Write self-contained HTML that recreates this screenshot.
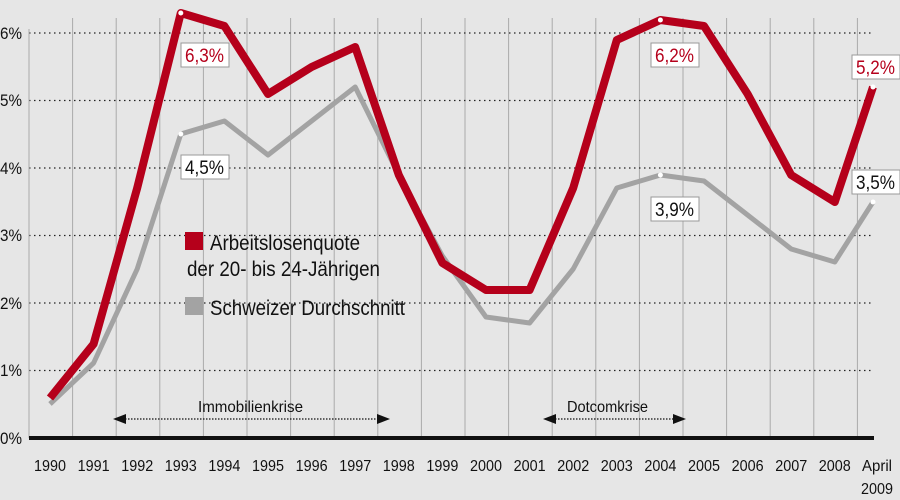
<!DOCTYPE html>
<html><head><meta charset="utf-8"><style>
body{margin:0;background:#e6e6e6}
svg{display:block;font-family:"Liberation Sans",sans-serif}
</style></head><body>
<svg width="900" height="500" viewBox="0 0 900 500" xmlns="http://www.w3.org/2000/svg">
<rect width="900" height="500" fill="#e6e6e6"/>
<g stroke="#aaa" stroke-width="1">
<line x1="72.6" y1="18" x2="72.6" y2="438"/><line x1="116.2" y1="18" x2="116.2" y2="438"/><line x1="159.8" y1="18" x2="159.8" y2="438"/><line x1="203.4" y1="18" x2="203.4" y2="438"/><line x1="247" y1="18" x2="247" y2="438"/><line x1="290.6" y1="18" x2="290.6" y2="438"/><line x1="334.2" y1="18" x2="334.2" y2="438"/><line x1="377.8" y1="18" x2="377.8" y2="438"/><line x1="421.4" y1="18" x2="421.4" y2="438"/><line x1="465" y1="18" x2="465" y2="438"/><line x1="508.6" y1="18" x2="508.6" y2="438"/><line x1="552.2" y1="18" x2="552.2" y2="438"/><line x1="595.8" y1="18" x2="595.8" y2="438"/><line x1="639.4" y1="18" x2="639.4" y2="438"/><line x1="683" y1="18" x2="683" y2="438"/><line x1="726.6" y1="18" x2="726.6" y2="438"/><line x1="770.2" y1="18" x2="770.2" y2="438"/><line x1="813.8" y1="18" x2="813.8" y2="438"/><line x1="857.4" y1="18" x2="857.4" y2="438"/>
</g>
<g stroke="#222" stroke-width="1.3" stroke-dasharray="1.5,3.5">
<line x1="29" y1="33" x2="873" y2="33"/><line x1="29" y1="100.5" x2="873" y2="100.5"/><line x1="29" y1="168" x2="873" y2="168"/><line x1="29" y1="235.5" x2="873" y2="235.5"/><line x1="29" y1="303" x2="873" y2="303"/><line x1="29" y1="370.5" x2="873" y2="370.5"/>
</g>
<line x1="29" y1="29" x2="29" y2="438" stroke="#aaa"/>
<g font-size="17" fill="#111" lengthAdjust="spacingAndGlyphs">
<text x="0" y="39" textLength="22" lengthAdjust="spacingAndGlyphs">6%</text><text x="0" y="106" textLength="22" lengthAdjust="spacingAndGlyphs">5%</text><text x="0" y="174" textLength="22" lengthAdjust="spacingAndGlyphs">4%</text><text x="0" y="241" textLength="22" lengthAdjust="spacingAndGlyphs">3%</text><text x="0" y="309" textLength="22" lengthAdjust="spacingAndGlyphs">2%</text><text x="0" y="376" textLength="22" lengthAdjust="spacingAndGlyphs">1%</text><text x="0" y="444" textLength="22" lengthAdjust="spacingAndGlyphs">0%</text>
</g>
<line x1="29" y1="438" x2="874" y2="438" stroke="#111" stroke-width="4"/>
<g font-size="16" fill="#111">
<text x="34" y="471" textLength="32" lengthAdjust="spacingAndGlyphs">1990</text><text x="77.6" y="471" textLength="32" lengthAdjust="spacingAndGlyphs">1991</text><text x="121.2" y="471" textLength="32" lengthAdjust="spacingAndGlyphs">1992</text><text x="164.8" y="471" textLength="32" lengthAdjust="spacingAndGlyphs">1993</text><text x="208.4" y="471" textLength="32" lengthAdjust="spacingAndGlyphs">1994</text><text x="252" y="471" textLength="32" lengthAdjust="spacingAndGlyphs">1995</text><text x="295.6" y="471" textLength="32" lengthAdjust="spacingAndGlyphs">1996</text><text x="339.2" y="471" textLength="32" lengthAdjust="spacingAndGlyphs">1997</text><text x="382.8" y="471" textLength="32" lengthAdjust="spacingAndGlyphs">1998</text><text x="426.4" y="471" textLength="32" lengthAdjust="spacingAndGlyphs">1999</text><text x="470" y="471" textLength="32" lengthAdjust="spacingAndGlyphs">2000</text><text x="513.6" y="471" textLength="32" lengthAdjust="spacingAndGlyphs">2001</text><text x="557.2" y="471" textLength="32" lengthAdjust="spacingAndGlyphs">2002</text><text x="600.8" y="471" textLength="32" lengthAdjust="spacingAndGlyphs">2003</text><text x="644.4" y="471" textLength="32" lengthAdjust="spacingAndGlyphs">2004</text><text x="688" y="471" textLength="32" lengthAdjust="spacingAndGlyphs">2005</text><text x="731.6" y="471" textLength="32" lengthAdjust="spacingAndGlyphs">2006</text><text x="775.2" y="471" textLength="32" lengthAdjust="spacingAndGlyphs">2007</text><text x="818.8" y="471" textLength="32" lengthAdjust="spacingAndGlyphs">2008</text><text x="862" y="471" textLength="30" lengthAdjust="spacingAndGlyphs">April</text><text x="861" y="494" textLength="32" lengthAdjust="spacingAndGlyphs">2009</text>
</g>
<polyline fill="none" stroke="#a3a3a3" stroke-width="5" stroke-linejoin="round" points="50,404 93.6,363 137.2,269 180.8,134 224.4,121 268,155 311.6,121 355.2,87 398.8,175 442.4,256 486,317 529.6,323 573.2,269 616.8,188 660.4,175 704,181 747.6,215 791.2,249 834.8,262 873,202"/>
<polyline fill="none" stroke="#b5001b" stroke-width="8" stroke-linejoin="round" points="50,398 93.6,344 137.2,188 180.8,13 224.4,26 268,94 311.6,67 355.2,47 398.8,175 442.4,263 486,290 529.6,290 573.2,188 616.8,40 660.4,20 704,26 747.6,94 791.2,175 834.8,202 873,87"/>
<g fill="#fff"><circle cx="180.8" cy="13" r="2.5"/><circle cx="660.4" cy="20" r="2.5"/><circle cx="873" cy="87" r="2.5"/><circle cx="180.8" cy="134" r="2.5"/><circle cx="660.4" cy="175" r="2.5"/><circle cx="873" cy="202" r="2.5"/></g>
<g font-size="19" stroke-width="1">
<rect x="181" y="43" width="48" height="24" fill="#fff" stroke="#999"/><text x="185" y="62" fill="#b5001b" textLength="39" lengthAdjust="spacingAndGlyphs">6,3%</text>
<rect x="651" y="43" width="48" height="24" fill="#fff" stroke="#999"/><text x="655" y="62" fill="#b5001b" textLength="39" lengthAdjust="spacingAndGlyphs">6,2%</text>
<rect x="852" y="55" width="48" height="24" fill="#fff" stroke="#999"/><text x="856" y="74" fill="#b5001b" textLength="39" lengthAdjust="spacingAndGlyphs">5,2%</text>
<rect x="181" y="155" width="48" height="24" fill="#fff" stroke="#999"/><text x="185" y="174" fill="#111" textLength="39" lengthAdjust="spacingAndGlyphs">4,5%</text>
<rect x="651" y="197" width="48" height="24" fill="#fff" stroke="#999"/><text x="655" y="216" fill="#111" textLength="39" lengthAdjust="spacingAndGlyphs">3,9%</text>
<rect x="852" y="170" width="48" height="24" fill="#fff" stroke="#999"/><text x="856" y="189" fill="#111" textLength="39" lengthAdjust="spacingAndGlyphs">3,5%</text>
</g>
<rect x="185" y="232" width="18" height="18" fill="#b5001b"/>
<rect x="185" y="297" width="18" height="18" fill="#a3a3a3"/>
<g font-size="21" fill="#111">
<text x="210" y="250" textLength="150" lengthAdjust="spacingAndGlyphs">Arbeitslosenquote</text>
<text x="187" y="276" textLength="193" lengthAdjust="spacingAndGlyphs">der 20- bis 24-Jährigen</text>
<text x="210" y="315" textLength="195" lengthAdjust="spacingAndGlyphs">Schweizer Durchschnitt</text>
</g>
<g stroke="#111" stroke-width="1.2" stroke-dasharray="1.5,1.5">
<line x1="125" y1="419" x2="380" y2="419"/><line x1="555" y1="419" x2="677" y2="419"/>
</g>
<g fill="#111">
<polygon points="113,419 126,414 126,424"/><polygon points="390,419 377,414 377,424"/>
<polygon points="543,419 556,414 556,424"/><polygon points="686,419 673,414 673,424"/>
</g>
<g font-size="16" fill="#111">
<text x="198" y="412" textLength="105" lengthAdjust="spacingAndGlyphs">Immobilienkrise</text><text x="567" y="412" textLength="81" lengthAdjust="spacingAndGlyphs">Dotcomkrise</text>
</g>
</svg>
</body></html>
